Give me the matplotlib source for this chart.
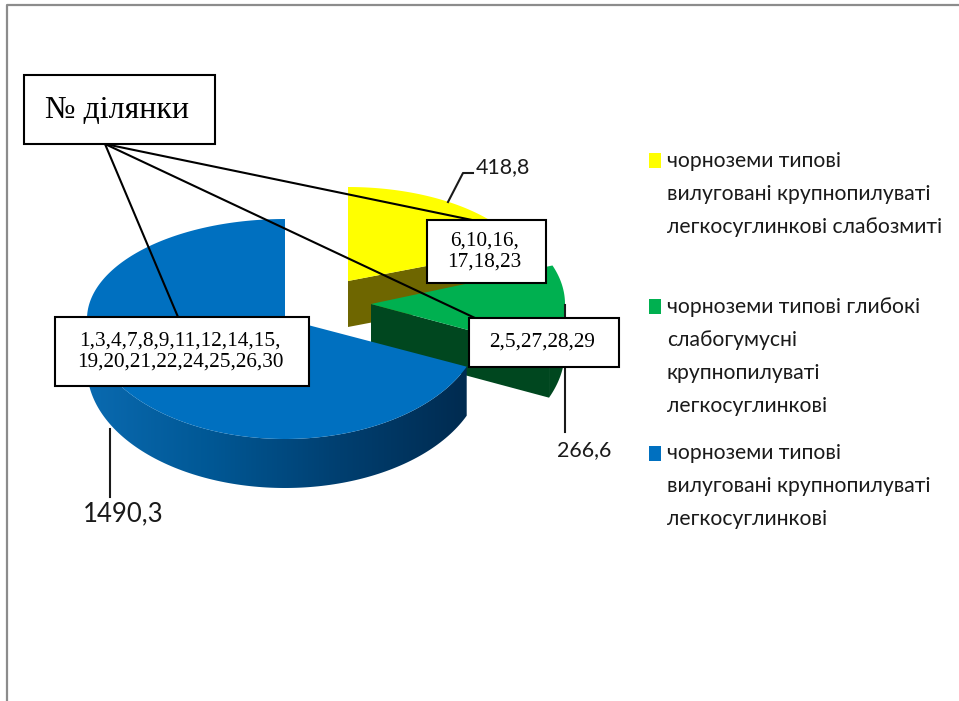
import numpy as np
import matplotlib
matplotlib.use("Agg")
import matplotlib.pyplot as plt
from matplotlib.patches import Polygon, Rectangle
from matplotlib.colors import LinearSegmentedColormap

# ==========================================
# DATA
# ==========================================
soil_names = [
    ["чорноземи типові", "вилуговані крупнопилуваті", "легкосуглинкові слабозмиті"],
    ["чорноземи типові глибокі", "слабогумусні", "крупнопилуваті", "легкосуглинкові"],
    ["чорноземи типові", "вилуговані крупнопилуваті", "легкосуглинкові"],
]
areas = [418.8, 266.6, 1490.3]
plots = ["6,10,16,\n17,18,23", "2,5,27,28,29",
         "1,3,4,7,8,9,11,12,14,15,\n19,20,21,22,24,25,26,30"]
box_title = "№ ділянки"

# slice styles and layout (pixels)
top_colors = ["#FFFF00", "#00B050", "#0070C0"]
wall_colors = ["#6E6600", "#00471F", "#002B50"]
apex = [(348, 281), (371, 304), (285, 319)]
radius = [(186, 94, 113), (194, 109, 120), (198, 100, 120)]
depth = [46, 46, 49]

fig = plt.figure(figsize=(9.59, 7.01), dpi=100)
ax = fig.add_axes([0, 0, 1, 1])


def rim(i, a0, a1, n=200):
    t = np.radians(np.linspace(a0, a1, n))
    rx, up, down = radius[i]
    ry = np.where(np.sin(t) > 0, up, down)
    return apex[i][0] + rx * np.cos(t), apex[i][1] - ry * np.sin(t)


# angles go clockwise from 12 o'clock: yellow, green, then blue
fractions = np.array(areas) / sum(areas)
starts = 90 - 360 * np.concatenate([[0], np.cumsum(fractions)[:-1]])
ends = starts - 360 * fractions
wall_cmap = LinearSegmentedColormap.from_list(
    "wall", ["#0A6AB0", "#005794", "#003F70", "#002B50"])

for i in range(3):
    x, y = rim(i, starts[i], ends[i])
    ax0, ay0 = apex[i]
    d = depth[i]

    # cut wall (yellow and green only, blue one faces away)
    if i < 2:
        cut = [(ax0, ay0), (x[-1], y[-1]), (x[-1], y[-1] + d), (ax0, ay0 + d)]
        ax.add_patch(Polygon(cut, fc=wall_colors[i], ec="none", zorder=2 + i))

    # outer wall, only the front half of the rim
    front = np.sin(np.radians(np.linspace(starts[i], ends[i], 200))) < 0.02
    xf, yf = x[front], y[front]
    wall = list(zip(xf, yf)) + list(zip(xf[::-1], yf[::-1] + d))
    if i == 2:
        shape = Polygon(wall, fc="none", ec="none", transform=ax.transData)
        ax.add_patch(shape)
        grad = ax.imshow(np.linspace(0, 1, 256).reshape(1, -1), cmap=wall_cmap, aspect="auto",
                         extent=(xf.min(), xf.max(), yf.max() + d, yf.min()), zorder=2 + i)
        grad.set_clip_path(shape)
    elif len(xf) > 1:
        ax.add_patch(Polygon(wall, fc=wall_colors[i], ec="none", zorder=2 + i))

    # top face
    face = [(ax0, ay0)] + list(zip(x, y))
    ax.add_patch(Polygon(face, fc=top_colors[i], ec="none", zorder=2.5 + i))

# page border
ax.plot([7, 7, 959], [701, 5, 5], color="#8C8C8C", lw=1.6, zorder=1)

# value leaders and labels
sans = "Lato"
ax.plot([448, 463, 473], [202, 173, 173], color="#1A1A1A", lw=1.5, zorder=6)
ax.plot([564.5, 564.5], [305, 432], color="#1A1A1A", lw=1.5, zorder=5.5)
ax.plot([110, 110], [429, 497], color="#1A1A1A", lw=1.5, zorder=6)
label_pos = [(503, 167), (584, 450), (123, 514)]
label_size = [15.4, 15.4, 18.5]
for v, (lx, ly), fs in zip(areas, label_pos, label_size):
    ax.text(lx, ly, f"{v:.1f}".replace(".", ","), family=sans, fontsize=fs,
            color="#1A1A1A", ha="center", va="center", zorder=7)

# call-out lines from the title box
for ex, ey in [(178, 317), (472, 220), (475, 318)]:
    ax.plot([105, ex], [144, ey], color="black", lw=1.5, zorder=7)

# boxes with plot numbers
boxes = [(427, 220, 119, 63), (469, 318, 150, 49), (55, 317, 254, 69)]
for txt, (bx, by, bw, bh) in zip(plots, boxes):
    ax.add_patch(Rectangle((bx, by), bw, bh, fc="white", ec="black", lw=1.5, zorder=8))
    ax.text(bx + bw / 2 - 2, by + bh / 2, txt, family="Liberation Serif", fontsize=15.3,
            ha="center", va="center", linespacing=1.08, zorder=9)
ax.add_patch(Rectangle((24, 75), 191, 69, fc="white", ec="black", lw=1.5, zorder=8))
ax.text(117, 107, box_title, family="Liberation Serif", fontsize=23,
        ha="center", va="center_baseline", zorder=9)

# legend
legend_y = [153, 299, 446]
line_y = [161, 307, 453]
for names, c, sy, ty in zip(soil_names, top_colors, legend_y, line_y):
    ax.add_patch(Rectangle((649, sy), 12, 15, fc=c, ec="none", zorder=5))
    for j, line in enumerate(names):
        ax.text(667, ty + 33 * j, line, family=sans, fontsize=15.2, color="#1A1A1A",
                ha="left", va="center", zorder=5)

ax.set_xlim(0, 959)
ax.set_ylim(701, 0)
ax.axis("off")

fig.savefig("out.png", dpi=100)
